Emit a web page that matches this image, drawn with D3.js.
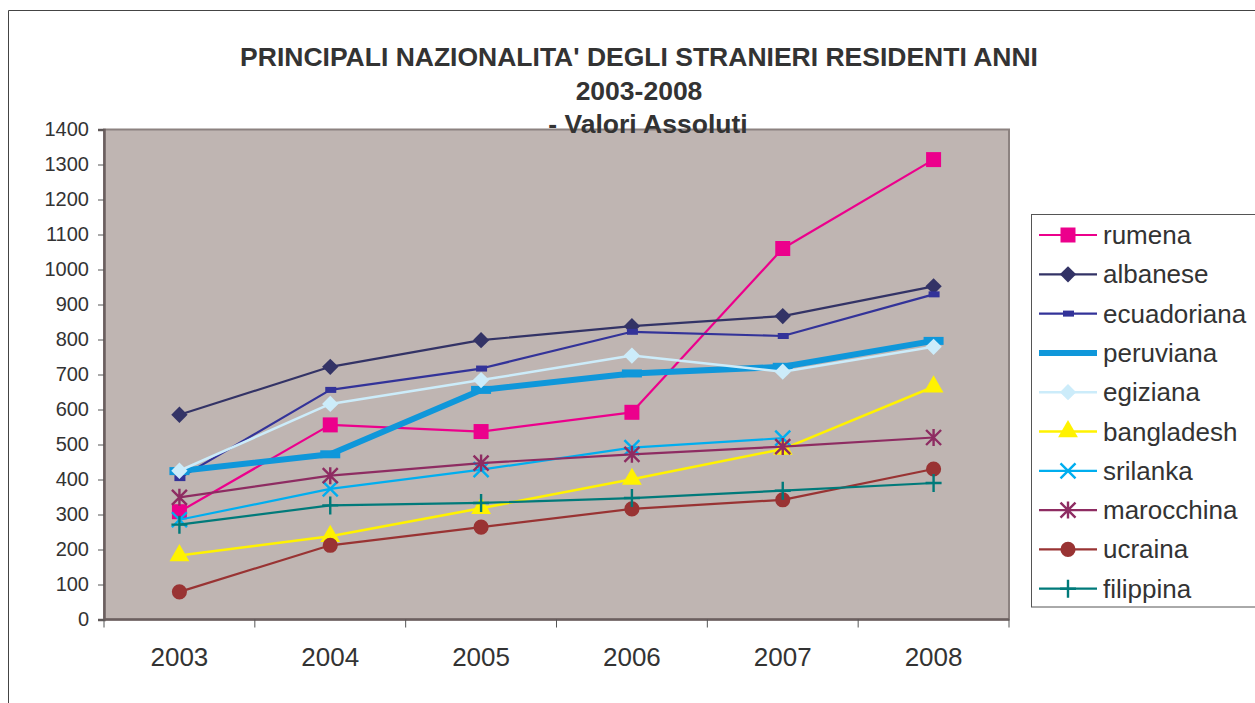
<!DOCTYPE html>
<html>
<head>
<meta charset="utf-8">
<script src="https://cdn.jsdelivr.net/npm/d3@7"></script>
<style>
  body { margin: 0; background: #fff; }
  text { font-family: "Liberation Sans", Arial, sans-serif; fill: #333; }
</style>
</head>
<body>
<div id="chart"></div>
<script>
// Anni (categorie)
const years = ["2003", "2004", "2005", "2006", "2007", "2008"];

// Valori per nazionalita'
const rumena      = [308, 556, 537, 592, 1060, 1314];
const albanese    = [585, 722, 798, 838, 867, 952];
const ecuadoriana = [404, 656, 717, 822, 810, 929];
const peruviana   = [424, 472, 656, 703, 722, 796];
const egiziana    = [425, 616, 684, 754, 708, 779];
const bangladesh  = [183, 238, 318, 401, 487, 665];
const srilanka    = [285, 373, 428, 491, 518, null];
const marocchina  = [349, 411, 447, 472, 494, 520];
const ucraina     = [79, 212, 264, 316, 342, 430];
const filippina   = [271, 326, 333, 347, 368, 390];

const yTicks = d3.range(0, 1401, 100);

const titleLines = [
    "PRINCIPALI NAZIONALITA' DEGLI STRANIERI RESIDENTI ANNI",
    "2003-2008",
    "- Valori Assoluti"
];

const series = [
    { name: "rumena", values: rumena, color: "#EC008C", marker: "square", width: 2.2 },
    { name: "albanese", values: albanese, color: "#333366", marker: "diamond", width: 2.2 },
    { name: "ecuadoriana", values: ecuadoriana, color: "#333399", marker: "dash", width: 2.2 },
    { name: "peruviana", values: peruviana, color: "#0F97DA", marker: "bigdash", width: 6 },
    { name: "egiziana", values: egiziana, color: "#CCECFA", marker: "diamond", width: 2.5 },
    { name: "bangladesh", values: bangladesh, color: "#FFF200", marker: "triangle", width: 2.5 },
    { name: "srilanka", values: srilanka, color: "#00AEEF", marker: "x", width: 2.2 },
    { name: "marocchina", values: marocchina, color: "#8E2C62", marker: "star", width: 2.2 },
    { name: "ucraina", values: ucraina, color: "#993333", marker: "circle", width: 2.2 },
    { name: "filippina", values: filippina, color: "#007A7A", marker: "plus", width: 2.2 }
];

const width = 1255, height = 703;
const plot = { left: 104, right: 1009, top: 129.5, bottom: 619.5 };

const svg = d3.select("#chart")
    .append("svg")
    .attr("width", width)
    .attr("height", height);

// outer chart frame
svg.append("path")
    .attr("d", `M8.5,${height} V10.5 H${width}`)
    .attr("fill", "none")
    .attr("stroke", "#444")
    .attr("stroke-width", 1);

const x = d3.scaleBand().domain(years).range([plot.left, plot.right]).padding(0);
const y = d3.scaleLinear().domain([0, 1400]).range([plot.bottom, plot.top]);
const cx = d => x(d) + x.bandwidth() / 2;

// plot area
svg.append("rect")
    .attr("x", plot.left)
    .attr("y", plot.top)
    .attr("width", plot.right - plot.left)
    .attr("height", plot.bottom - plot.top)
    .attr("fill", "#BFB5B2")
    .attr("stroke", "#8C8280")
    .attr("stroke-width", 2);

// y axis
const yAxis = svg.append("g")
    .attr("transform", `translate(${plot.left},0)`)
    .call(d3.axisLeft(y).tickValues(yTicks).tickSize(6).tickPadding(9).tickFormat(d3.format("d")));
yAxis.select(".domain").attr("stroke", "#6B5F5F").attr("stroke-width", 2.5);
yAxis.selectAll(".tick line").attr("stroke", "#555");
yAxis.selectAll(".tick text")
    .attr("font-size", 20)
    .attr("fill", "#333")
    .attr("font-family", "Liberation Sans, Arial, sans-serif");

// x axis: tick marks at category boundaries, labels centred
const xAxis = svg.append("g")
    .attr("transform", `translate(0,${plot.bottom})`);
xAxis.append("line")
    .attr("x1", plot.left).attr("x2", plot.right)
    .attr("stroke", "#6B5F5F").attr("stroke-width", 2.5);
xAxis.selectAll("line.tk")
    .data(years.map(d => x(d)).concat([plot.right]))
    .join("line")
    .attr("class", "tk")
    .attr("x1", d => d).attr("x2", d => d)
    .attr("y1", 0).attr("y2", 8)
    .attr("stroke", "#555");
xAxis.selectAll("text")
    .data(years)
    .join("text")
    .attr("x", d => cx(d))
    .attr("y", 46.5)
    .attr("text-anchor", "middle")
    .attr("font-size", 26)
    .text(d => d);

// markers
function drawMarker(g, type, color, px, py) {
    const sym = (t, s) => g.append("path")
        .attr("transform", `translate(${px},${py})`)
        .attr("d", d3.symbol().type(t).size(s)())
        .attr("fill", color);
    const strokePath = d => g.append("path")
        .attr("transform", `translate(${px},${py})`)
        .attr("d", d)
        .attr("fill", "none")
        .attr("stroke", color)
        .attr("stroke-width", 2.4);
    switch (type) {
        case "square": sym(d3.symbolSquare, 225); break;
        case "diamond": sym(d3.symbolDiamond2, 170); break;
        case "triangle": sym(d3.symbolTriangle, 170); break;
        case "circle": sym(d3.symbolCircle, 180); break;
        case "dash":
            g.append("rect").attr("x", px - 5).attr("y", py - 3)
                .attr("width", 11).attr("height", 6).attr("fill", color);
            break;
        case "bigdash":
            g.append("rect").attr("x", px - 10).attr("y", py - 4)
                .attr("width", 20).attr("height", 8).attr("fill", color);
            break;
        case "x": strokePath("M-7.5,-7.5L7.5,7.5M-7.5,7.5L7.5,-7.5"); break;
        case "star": strokePath("M-7.5,-7.5L7.5,7.5M-7.5,7.5L7.5,-7.5M0,-8.5V8.5"); break;
        case "plus": strokePath("M-8,0H8M0,-9V9"); break;
    }
}

const line = d3.line()
    .defined(d => d.v != null)
    .x(d => cx(d.year))
    .y(d => y(d.v));

series.forEach(s => {
    const pts = years.map((yr, i) => ({ year: yr, v: s.values[i] }));
    const g = svg.append("g");
    g.append("path")
        .datum(pts)
        .attr("d", line)
        .attr("fill", "none")
        .attr("stroke", s.color)
        .attr("stroke-width", s.width)
        .attr("stroke-linejoin", "round");
    pts.filter(p => p.v != null).forEach(p => drawMarker(g, s.marker, s.color, cx(p.year), y(p.v)));
});

// title
svg.append("g")
    .selectAll("text")
    .data(titleLines)
    .join("text")
    .attr("x", (d, i) => i === 2 ? 648 : 639)
    .attr("y", (d, i) => 66 + i * 33.5)
    .attr("text-anchor", "middle")
    .attr("font-size", 26.5)
    .attr("font-weight", "bold")
    .attr("fill", "#333")
    .text(d => d);

// legend
const legend = svg.append("g");
legend.append("rect")
    .attr("x", 1031.5).attr("y", 214.5)
    .attr("width", 240).attr("height", 392.5)
    .attr("fill", "#fff")
    .attr("stroke", "#555");

series.forEach((s, i) => {
    const ly = 235 + i * 39.3;
    const g = legend.append("g");
    g.append("line")
        .attr("x1", 1039).attr("x2", 1097)
        .attr("y1", ly).attr("y2", ly)
        .attr("stroke", s.color)
        .attr("stroke-width", s.width);
    if (s.marker !== "bigdash") drawMarker(g, s.marker, s.color, 1068, ly);
    g.append("text")
        .attr("x", 1103)
        .attr("y", ly + 9)
        .attr("font-size", 26)
        .attr("fill", "#333")
        .text(s.name);
});
</script>
</body>
</html>
